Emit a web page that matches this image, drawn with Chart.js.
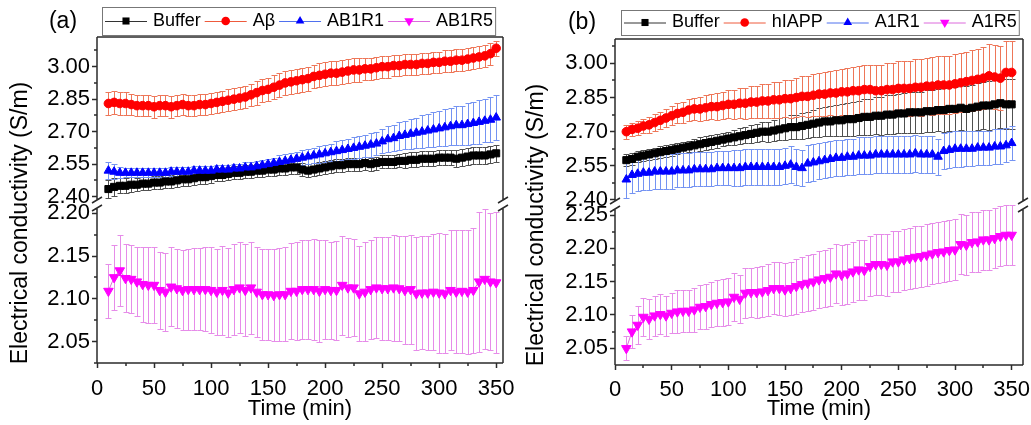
<!DOCTYPE html>
<html>
<head>
<meta charset="utf-8">
<script src="https://cdn.jsdelivr.net/npm/chart.js@4.4.1/dist/chart.umd.min.js"></script>
<style>
  html, body { margin: 0; padding: 0; background: #fff; }
  #wrap { position: relative; width: 1031px; height: 425px; }
  canvas { position: absolute; top: 0; }
  #chart-a { left: 0; }
  #chart-b { left: 515px; }
</style>
</head>
<body>
<div id="wrap">
  <canvas id="chart-a" width="515" height="425"></canvas>
  <canvas id="chart-b" width="516" height="425"></canvas>
</div>
<script>
// sampling times (min), shared by every series
const TIMES = [
  10, 15, 20, 25, 30, 35, 40, 45,
  50, 55, 60, 65, 70, 75, 80, 85, 90, 95, 100,
  105, 110, 115, 120, 125, 130, 135, 140, 145, 150,
  155, 160, 165, 170, 175, 180, 185, 190, 195, 200,
  205, 210, 215, 220, 225, 230, 235, 240, 245, 250,
  255, 260, 265, 270, 275, 280, 285, 290, 295, 300,
  305, 310, 315, 320, 325, 330, 335, 340, 345, 350
];
const X_TICK_STEP = 50;

// ---- panel (a) ----
const A_LABELS = ['Buffer', 'A\u03b2', 'AB1R1', 'AB1R5'];
const A_BUFFER = [
  2.435, 2.445, 2.45, 2.45, 2.455, 2.455, 2.46, 2.46,
  2.465, 2.465, 2.47, 2.47, 2.475, 2.48, 2.48, 2.485, 2.49, 2.49, 2.495,
  2.50, 2.50, 2.505, 2.51, 2.51, 2.515, 2.515, 2.52, 2.52, 2.525,
  2.525, 2.53, 2.53, 2.535, 2.535, 2.525, 2.52, 2.525, 2.53, 2.535,
  2.54, 2.545, 2.545, 2.55, 2.55, 2.55, 2.555, 2.55, 2.555, 2.56,
  2.56, 2.56, 2.565, 2.565, 2.57, 2.57, 2.575, 2.575, 2.575, 2.58,
  2.58, 2.58, 2.575, 2.58, 2.585, 2.59, 2.59, 2.59, 2.595, 2.60
];
const A_BUFFER_ERR = [
  0.04, 0.04, 0.035, 0.035, 0.035, 0.03, 0.03, 0.03,
  0.03, 0.03, 0.03, 0.03, 0.03, 0.03, 0.03, 0.03, 0.03, 0.03, 0.03,
  0.03, 0.03, 0.03, 0.03, 0.03, 0.03, 0.03, 0.03, 0.03, 0.03,
  0.03, 0.03, 0.03, 0.03, 0.03, 0.03, 0.03, 0.03, 0.03, 0.03,
  0.03, 0.03, 0.03, 0.03, 0.03, 0.03, 0.03, 0.03, 0.03, 0.03,
  0.03, 0.03, 0.03, 0.035, 0.035, 0.035, 0.035, 0.035, 0.035, 0.035,
  0.035, 0.035, 0.04, 0.04, 0.04, 0.04, 0.04, 0.04, 0.04, 0.04
];
const A_PEPTIDE = [
  2.83, 2.835, 2.83, 2.83, 2.825, 2.82, 2.82, 2.82,
  2.815, 2.82, 2.82, 2.815, 2.82, 2.825, 2.82, 2.82, 2.825, 2.825, 2.83,
  2.835, 2.84, 2.845, 2.85, 2.855, 2.86, 2.87, 2.88, 2.89, 2.895,
  2.905, 2.915, 2.925, 2.93, 2.935, 2.94, 2.945, 2.955, 2.96, 2.965,
  2.97, 2.97, 2.975, 2.98, 2.985, 2.985, 2.99, 2.99, 2.995, 3.00,
  3.00, 3.005, 3.005, 3.01, 3.01, 3.01, 3.015, 3.015, 3.02, 3.02,
  3.025, 3.025, 3.03, 3.03, 3.035, 3.04, 3.045, 3.05, 3.06, 3.085
];
const A_PEPTIDE_ERR = [
  0.055, 0.055, 0.055, 0.055, 0.05, 0.05, 0.05, 0.05,
  0.05, 0.05, 0.05, 0.05, 0.05, 0.05, 0.05, 0.05, 0.05, 0.05, 0.05,
  0.05, 0.05, 0.05, 0.05, 0.05, 0.05, 0.05, 0.055, 0.055, 0.055,
  0.055, 0.055, 0.055, 0.055, 0.055, 0.055, 0.055, 0.055, 0.055, 0.055,
  0.055, 0.055, 0.055, 0.055, 0.055, 0.055, 0.05, 0.05, 0.05, 0.05,
  0.05, 0.05, 0.05, 0.05, 0.05, 0.05, 0.05, 0.05, 0.05, 0.05,
  0.05, 0.05, 0.05, 0.05, 0.05, 0.05, 0.05, 0.05, 0.05, 0.035
];
const A_R1 = [
  2.52, 2.515, 2.51, 2.51, 2.51, 2.51, 2.51, 2.51,
  2.51, 2.51, 2.51, 2.515, 2.515, 2.515, 2.515, 2.52, 2.52, 2.52, 2.52,
  2.525, 2.525, 2.525, 2.53, 2.53, 2.535, 2.535, 2.54, 2.545, 2.55,
  2.555, 2.56, 2.565, 2.57, 2.575, 2.58, 2.585, 2.59, 2.595, 2.60,
  2.605, 2.61, 2.615, 2.62, 2.625, 2.63, 2.635, 2.64, 2.645, 2.655,
  2.665, 2.67, 2.68, 2.685, 2.69, 2.695, 2.70, 2.705, 2.71, 2.715,
  2.72, 2.725, 2.73, 2.73, 2.735, 2.74, 2.745, 2.75, 2.755, 2.765
];
const A_R1_ERR = [
  0.04, 0.035, 0.025, 0.02, 0.02, 0.02, 0.02, 0.02,
  0.02, 0.02, 0.02, 0.02, 0.02, 0.02, 0.02, 0.02, 0.02, 0.02, 0.02,
  0.02, 0.02, 0.02, 0.02, 0.02, 0.025, 0.025, 0.025, 0.025, 0.025,
  0.025, 0.03, 0.03, 0.03, 0.03, 0.035, 0.035, 0.035, 0.04, 0.04,
  0.04, 0.045, 0.045, 0.045, 0.05, 0.05, 0.05, 0.055, 0.055, 0.055,
  0.06, 0.06, 0.065, 0.065, 0.07, 0.07, 0.075, 0.075, 0.08, 0.08,
  0.085, 0.085, 0.09, 0.09, 0.095, 0.095, 0.1, 0.1, 0.105, 0.105
];
const A_R5 = [
  2.109, 2.125, 2.133, 2.124, 2.123, 2.12, 2.117, 2.116,
  2.116, 2.11, 2.108, 2.114, 2.112, 2.11, 2.111, 2.111, 2.111, 2.111, 2.11,
  2.108, 2.11, 2.107, 2.111, 2.113, 2.11, 2.113, 2.108, 2.105, 2.105,
  2.104, 2.105, 2.105, 2.109, 2.109, 2.111, 2.111, 2.111, 2.109, 2.111,
  2.11, 2.11, 2.116, 2.113, 2.113, 2.106, 2.108, 2.111, 2.113, 2.112,
  2.112, 2.113, 2.112, 2.11, 2.111, 2.106, 2.107, 2.107, 2.108, 2.107,
  2.106, 2.11, 2.108, 2.109, 2.108, 2.11, 2.12, 2.123, 2.12, 2.119
];
const A_R5_ERR = [
  0.032, 0.038, 0.042, 0.04, 0.04, 0.04, 0.044, 0.044,
  0.044, 0.045, 0.046, 0.046, 0.046, 0.047, 0.047, 0.048, 0.048, 0.049, 0.05,
  0.05, 0.052, 0.052, 0.053, 0.053, 0.054, 0.054, 0.053, 0.053, 0.053,
  0.054, 0.054, 0.055, 0.056, 0.057, 0.058, 0.058, 0.059, 0.06, 0.058,
  0.057, 0.058, 0.058, 0.058, 0.057, 0.056, 0.058, 0.058, 0.059, 0.06,
  0.06, 0.062, 0.062, 0.063, 0.064, 0.066, 0.066, 0.067, 0.068, 0.07,
  0.07, 0.07, 0.072, 0.072, 0.073, 0.073, 0.082, 0.082, 0.08, 0.082
];

// ---- panel (b) ----
const B_LABELS = ['Buffer', 'hIAPP', 'A1R1', 'A1R5'];
const B_BUFFER = [
  2.575, 2.58, 2.59, 2.595, 2.60, 2.605, 2.61, 2.615,
  2.62, 2.625, 2.63, 2.635, 2.64, 2.645, 2.65, 2.655, 2.66, 2.665, 2.67,
  2.675, 2.68, 2.685, 2.69, 2.695, 2.70, 2.70, 2.705, 2.71, 2.715,
  2.72, 2.72, 2.725, 2.73, 2.735, 2.74, 2.745, 2.745, 2.75, 2.75,
  2.755, 2.755, 2.76, 2.765, 2.765, 2.77, 2.77, 2.775, 2.775, 2.78,
  2.78, 2.785, 2.785, 2.785, 2.79, 2.79, 2.795, 2.795, 2.80, 2.80,
  2.805, 2.80, 2.805, 2.81, 2.815, 2.815, 2.82, 2.825, 2.82, 2.82
];
const B_BUFFER_ERR = [
  0.025, 0.025, 0.025, 0.025, 0.025, 0.025, 0.025, 0.025,
  0.025, 0.025, 0.025, 0.025, 0.03, 0.03, 0.03, 0.03, 0.03, 0.03, 0.03,
  0.032, 0.034, 0.036, 0.038, 0.04, 0.042, 0.044, 0.046, 0.048, 0.05,
  0.052, 0.054, 0.056, 0.058, 0.06, 0.062, 0.064, 0.066, 0.068, 0.07,
  0.072, 0.074, 0.076, 0.078, 0.08, 0.082, 0.084, 0.085, 0.086, 0.087,
  0.088, 0.089, 0.09, 0.091, 0.092, 0.093, 0.094, 0.095, 0.096, 0.097,
  0.098, 0.099, 0.1, 0.102, 0.104, 0.106, 0.108, 0.11, 0.11, 0.11
];
const B_PEPTIDE = [
  2.70, 2.71, 2.715, 2.725, 2.73, 2.74, 2.75, 2.76,
  2.77, 2.78, 2.785, 2.795, 2.80, 2.80, 2.805, 2.81, 2.81, 2.815, 2.82,
  2.82, 2.825, 2.825, 2.83, 2.83, 2.835, 2.835, 2.84, 2.84, 2.845,
  2.845, 2.85, 2.855, 2.855, 2.86, 2.865, 2.865, 2.87, 2.87, 2.875,
  2.875, 2.88, 2.88, 2.885, 2.885, 2.88, 2.88, 2.885, 2.885, 2.89,
  2.89, 2.89, 2.895, 2.895, 2.90, 2.90, 2.905, 2.905, 2.905, 2.91,
  2.915, 2.92, 2.925, 2.93, 2.935, 2.945, 2.94, 2.935, 2.96, 2.96
];
const B_PEPTIDE_ERR = [
  0.03, 0.03, 0.03, 0.032, 0.034, 0.036, 0.038, 0.04,
  0.042, 0.044, 0.046, 0.048, 0.05, 0.052, 0.054, 0.056, 0.058, 0.06, 0.062,
  0.064, 0.066, 0.068, 0.07, 0.072, 0.074, 0.076, 0.078, 0.08, 0.082,
  0.084, 0.086, 0.088, 0.09, 0.092, 0.094, 0.096, 0.098, 0.1, 0.102,
  0.104, 0.106, 0.108, 0.11, 0.11, 0.112, 0.114, 0.116, 0.118, 0.12,
  0.12, 0.122, 0.122, 0.124, 0.124, 0.126, 0.126, 0.128, 0.128, 0.13,
  0.13, 0.132, 0.132, 0.134, 0.136, 0.138, 0.14, 0.14, 0.14, 0.14
];
const B_R1 = [
  2.49, 2.51, 2.515, 2.52, 2.52, 2.525, 2.525, 2.525,
  2.525, 2.53, 2.53, 2.53, 2.535, 2.535, 2.535, 2.535, 2.54, 2.54, 2.54,
  2.54, 2.54, 2.545, 2.545, 2.545, 2.545, 2.545, 2.545, 2.545, 2.55,
  2.555, 2.545, 2.54, 2.56, 2.565, 2.57, 2.575, 2.58, 2.585, 2.585,
  2.59, 2.59, 2.595, 2.595, 2.595, 2.60, 2.60, 2.60, 2.60, 2.60,
  2.60, 2.60, 2.605, 2.60, 2.60, 2.60, 2.59, 2.615, 2.62, 2.625,
  2.625, 2.625, 2.625, 2.63, 2.63, 2.63, 2.635, 2.635, 2.64, 2.65
];
const B_R1_ERR = [
  0.08, 0.08, 0.075, 0.075, 0.075, 0.075, 0.075, 0.075,
  0.075, 0.075, 0.075, 0.075, 0.075, 0.075, 0.075, 0.075, 0.075, 0.075, 0.075,
  0.078, 0.078, 0.078, 0.078, 0.078, 0.078, 0.078, 0.078, 0.078, 0.078,
  0.08, 0.08, 0.08, 0.08, 0.08, 0.08, 0.08, 0.08, 0.08, 0.08,
  0.08, 0.08, 0.08, 0.08, 0.08, 0.08, 0.08, 0.08, 0.08, 0.08,
  0.08, 0.08, 0.08, 0.08, 0.08, 0.08, 0.08, 0.078, 0.078, 0.078,
  0.078, 0.076, 0.076, 0.075, 0.075, 0.075, 0.075, 0.075, 0.075, 0.075
];
const B_R5 = [
  2.05, 2.075, 2.085, 2.097, 2.094, 2.099, 2.101, 2.099,
  2.103, 2.105, 2.106, 2.106, 2.108, 2.112, 2.113, 2.116, 2.118, 2.119, 2.12,
  2.127, 2.124, 2.133, 2.134, 2.134, 2.135, 2.137, 2.14, 2.14, 2.138,
  2.14, 2.143, 2.146, 2.148, 2.15, 2.153, 2.155, 2.157, 2.162, 2.16,
  2.162, 2.165, 2.168, 2.167, 2.173, 2.176, 2.176, 2.175, 2.18, 2.18,
  2.183, 2.185, 2.187, 2.188, 2.19, 2.192, 2.194, 2.195, 2.197, 2.198,
  2.206, 2.205, 2.209, 2.21, 2.213, 2.213, 2.215, 2.218, 2.22, 2.22
];
const B_R5_ERR = [
  0.018, 0.025, 0.028, 0.028, 0.03, 0.03, 0.03, 0.03,
  0.03, 0.032, 0.032, 0.032, 0.033, 0.033, 0.034, 0.034, 0.035, 0.035, 0.035,
  0.036, 0.036, 0.037, 0.037, 0.038, 0.038, 0.039, 0.039, 0.04, 0.04,
  0.04, 0.041, 0.041, 0.042, 0.042, 0.043, 0.043, 0.044, 0.044, 0.045,
  0.045, 0.045, 0.045, 0.045, 0.045, 0.046, 0.046, 0.046, 0.046, 0.046,
  0.046, 0.046, 0.046, 0.046, 0.046, 0.046, 0.046, 0.046, 0.046, 0.046,
  0.045, 0.045, 0.045, 0.045, 0.045, 0.045, 0.045, 0.045, 0.045, 0.045
];

const FONT = '"Liberation Sans", Arial, Helvetica, sans-serif';
Chart.defaults.font.family = FONT;
Chart.defaults.color = '#000';

const STYLES = [
  { marker: '#000000', line: '#333333', err: '#505050', pointStyle: 'rect', radius: 5, rotation: 0 },
  { marker: '#ff0000', line: '#ee5a3c', err: '#ee7658', pointStyle: 'circle', radius: 4.3, rotation: 0 },
  { marker: '#0000ff', line: '#4f70ee', err: '#7493f2', pointStyle: 'triangle', radius: 5, rotation: 0 },
  { marker: '#ff00ff', line: '#dc6bdc', err: '#e68ce9', pointStyle: 'triangle', radius: 5.5, rotation: 180 },
];
const AXIS_COLOR = '#2b2b2b';

// layout of each panel (pixel positions only, no data)
const PANELS = {
  'chart-a': {
    top: 37, right: 12, yAxisWidth: 97, xAxisHeight: 62, xTickPad: 8, xMax: 356,
    yTop: { min: 2.366, max: 3.137, step: 0.15, weight: 167 },
    yBot: { min: 2.0248, max: 2.2109, step: 0.05, weight: 159 },
    panelLabel: '(a)', labelX: 63, labelY: 22,
    titleX: 21, titleY: 223,
    legend: { left: 102, top: 7, bottom: 35, font: 18 },
  },
  'chart-b': {
    top: 39, right: 8, yAxisWidth: 100, xAxisHeight: 60, xTickPad: 7, xMax: 360,
    yTop: { min: 2.378, max: 3.107, step: 0.15, weight: 166 },
    yBot: { min: 2.025, max: 2.265, step: 0.05, weight: 160 },
    panelLabel: '(b)', labelX: 67, labelY: 23,
    titleX: 22, titleY: 225,
    legend: { left: 106, top: 10, bottom: 35, font: 18 },
  },
};

function makeDataset(label, values, errors, style, axis, order) {
  return {
    label, yAxisID: axis, order,
    data: TIMES.map((t, i) => ({ x: t, y: values[i] })),
    errors, errorColor: style.err, markerStyle: style,
    borderColor: style.line, borderWidth: 1, showLine: true, fill: false, tension: 0,
    pointStyle: style.pointStyle, pointRadius: style.radius, pointRotation: style.rotation,
    pointBackgroundColor: style.marker, pointBorderColor: style.marker, pointBorderWidth: 1,
  };
}

function drawMarker(ctx, st, x, y) {
  const r = st.radius;
  ctx.fillStyle = st.marker;
  ctx.beginPath();
  if (st.pointStyle === 'circle') {
    ctx.arc(x, y, r, 0, Math.PI * 2);
  } else if (st.pointStyle === 'rect') {
    const s = r * Math.SQRT1_2;
    ctx.rect(x - s, y - s, 2 * s, 2 * s);
  } else {
    const d = st.rotation === 180 ? 1 : -1;
    ctx.moveTo(x, y + d * r);
    ctx.lineTo(x + r * 0.866, y - d * r / 2);
    ctx.lineTo(x - r * 0.866, y - d * r / 2);
    ctx.closePath();
  }
  ctx.fill();
}

function drawErrorBars(chart) {
  const { ctx, chartArea: ca } = chart;
  const xs = chart.scales.x;
  chart.data.datasets.forEach(ds => {
    if (!ds.errors) return;
    const ys = chart.scales[ds.yAxisID];
    ctx.save();
    ctx.beginPath();
    ctx.rect(ca.left, ys.top - 1, ca.right - ca.left, ys.bottom - ys.top + 2);
    ctx.clip();
    ctx.strokeStyle = ds.errorColor;
    ctx.lineWidth = 1;
    ctx.beginPath();
    ds.data.forEach((p, j) => {
      const e = ds.errors[j];
      const x = Math.round(xs.getPixelForValue(p.x)) + 0.5;
      const hi = Math.round(ys.getPixelForValue(p.y + e)) + 0.5;
      const lo = Math.round(ys.getPixelForValue(p.y - e)) + 0.5;
      ctx.moveTo(x, hi); ctx.lineTo(x, lo);
      ctx.moveTo(x - 3, hi); ctx.lineTo(x + 3, hi);
      ctx.moveTo(x - 3, lo); ctx.lineTo(x + 3, lo);
    });
    ctx.stroke();
    ctx.restore();
  });
}

// box frame with the axis break between the two y segments
function drawFrame(chart) {
  const { ctx, chartArea: ca } = chart;
  const b = chart.scales.yTop.bottom;
  const g = 4;
  ctx.save();
  ctx.strokeStyle = AXIS_COLOR;
  ctx.lineWidth = 1.5;
  ctx.beginPath();
  ctx.moveTo(ca.left, ca.top); ctx.lineTo(ca.right, ca.top);
  ctx.moveTo(ca.left, ca.bottom); ctx.lineTo(ca.right, ca.bottom);
  [ca.left, ca.right].forEach(x => {
    ctx.moveTo(x, ca.top); ctx.lineTo(x, b - g);
    ctx.moveTo(x, b + g); ctx.lineTo(x, ca.bottom);
    ctx.moveTo(x - 5, b - g + 3); ctx.lineTo(x + 5, b - g - 3);
    ctx.moveTo(x - 5, b + g + 3); ctx.lineTo(x + 5, b + g - 3);
  });
  ctx.stroke();
  ctx.restore();
}

function drawMinorTicks(chart) {
  const { ctx, chartArea: ca } = chart;
  ctx.save();
  ctx.strokeStyle = AXIS_COLOR;
  ctx.lineWidth = 1.5;
  ctx.beginPath();
  ['x', 'yTop', 'yBot'].forEach(id => {
    const s = chart.scales[id];
    const vals = s.ticks.map(t => t.value);
    if (vals.length < 2) return;
    const step = vals[1] - vals[0];
    const mids = [vals[0] - step / 2].concat(vals.map(v => v + step / 2));
    mids.filter(v => v > s.min && v < s.max).forEach(v => {
      const px = Math.round(s.getPixelForValue(v));
      if (id === 'x') { ctx.moveTo(px, ca.bottom); ctx.lineTo(px, ca.bottom + 3); }
      else { ctx.moveTo(ca.left, px); ctx.lineTo(ca.left - 3, px); }
    });
  });
  ctx.stroke();
  ctx.restore();
}

function drawLegend(chart, cfg) {
  const ctx = chart.ctx;
  const lg = cfg.legend;
  const cy = (lg.top + lg.bottom) / 2;
  ctx.save();
  ctx.font = lg.font + 'px ' + FONT;
  ctx.textBaseline = 'middle';
  ctx.textAlign = 'left';
  let x = lg.left + 3;
  chart.data.datasets.forEach(ds => {
    const st = ds.markerStyle;
    ctx.strokeStyle = st.line;
    ctx.lineWidth = 1;
    ctx.beginPath(); ctx.moveTo(x, cy + 0.5); ctx.lineTo(x + 42, cy + 0.5); ctx.stroke();
    drawMarker(ctx, st, x + 21, cy);
    ctx.fillStyle = '#000';
    ctx.fillText(ds.label, x + 48, cy);
    x += 48 + ctx.measureText(ds.label).width + 4;
  });
  ctx.strokeStyle = '#777';
  ctx.lineWidth = 1;
  ctx.strokeRect(lg.left + 0.5, lg.top + 0.5, x - lg.left - 2, lg.bottom - lg.top);
  ctx.restore();
}

function drawTexts(chart, cfg) {
  const ctx = chart.ctx;
  ctx.save();
  ctx.fillStyle = '#000';
  ctx.font = '23px ' + FONT;
  ctx.textAlign = 'center';
  ctx.textBaseline = 'middle';
  ctx.fillText(cfg.panelLabel, cfg.labelX, cfg.labelY);
  ctx.translate(cfg.titleX, cfg.titleY);
  ctx.rotate(-Math.PI / 2);
  ctx.fillText('Electrical conductivity (S/m)', 0, 0);
  ctx.restore();
}

const brokenAxisPlugin = {
  id: 'brokenAxis',
  beforeDatasetsDraw(chart) { drawErrorBars(chart); },
  afterDraw(chart) {
    const cfg = PANELS[chart.canvas.id];
    drawFrame(chart);
    drawMinorTicks(chart);
    drawLegend(chart, cfg);
    drawTexts(chart, cfg);
  },
};

function yScale(p, seg) {
  return {
    type: 'linear', position: 'left', stack: 'conductivity', stackWeight: seg.weight,
    min: seg.min, max: seg.max, bounds: 'ticks',
    border: { display: false },
    grid: { drawOnChartArea: false, drawTicks: true, tickLength: 5, tickColor: AXIS_COLOR, tickWidth: 1.5 },
    ticks: {
      stepSize: seg.step, includeBounds: false, autoSkip: false, padding: 2,
      font: { size: 22 }, callback: v => v.toFixed(2),
    },
    afterFit: s => { s.width = p.yAxisWidth; s.paddingTop = 0; s.paddingBottom = 0; },
  };
}

function makePanel(id, labels, series) {
  const p = PANELS[id];
  const datasets = series.map((s, i) =>
    makeDataset(labels[i], s[0], s[1], STYLES[i], i === 3 ? 'yBot' : 'yTop', 4 - i));
  return new Chart(document.getElementById(id), {
    type: 'line',
    data: { datasets },
    options: {
      responsive: false, animation: false, events: [],
      layout: { padding: { top: p.top, right: p.right, left: 0, bottom: 0 } },
      plugins: { legend: { display: false }, tooltip: { enabled: false } },
      scales: {
        x: {
          type: 'linear', min: 0, max: p.xMax, bounds: 'ticks',
          border: { display: false },
          grid: { drawOnChartArea: false, drawTicks: true, tickLength: 5, tickColor: AXIS_COLOR, tickWidth: 1.5 },
          ticks: {
            stepSize: X_TICK_STEP, includeBounds: false, autoSkip: false,
            padding: p.xTickPad, maxRotation: 0, font: { size: 22 },
          },
          title: { display: true, text: 'Time (min)', font: { size: 22 }, padding: { top: 0, bottom: 3 } },
          afterFit: s => { s.height = p.xAxisHeight; s.paddingLeft = 0; s.paddingRight = 0; },
        },
        yBot: yScale(p, p.yBot),
        yTop: yScale(p, p.yTop),
      },
    },
    plugins: [brokenAxisPlugin],
  });
}

makePanel('chart-a', A_LABELS, [
  [A_BUFFER, A_BUFFER_ERR], [A_PEPTIDE, A_PEPTIDE_ERR], [A_R1, A_R1_ERR], [A_R5, A_R5_ERR],
]);
makePanel('chart-b', B_LABELS, [
  [B_BUFFER, B_BUFFER_ERR], [B_PEPTIDE, B_PEPTIDE_ERR], [B_R1, B_R1_ERR], [B_R5, B_R5_ERR],
]);
</script>
</body>
</html>
